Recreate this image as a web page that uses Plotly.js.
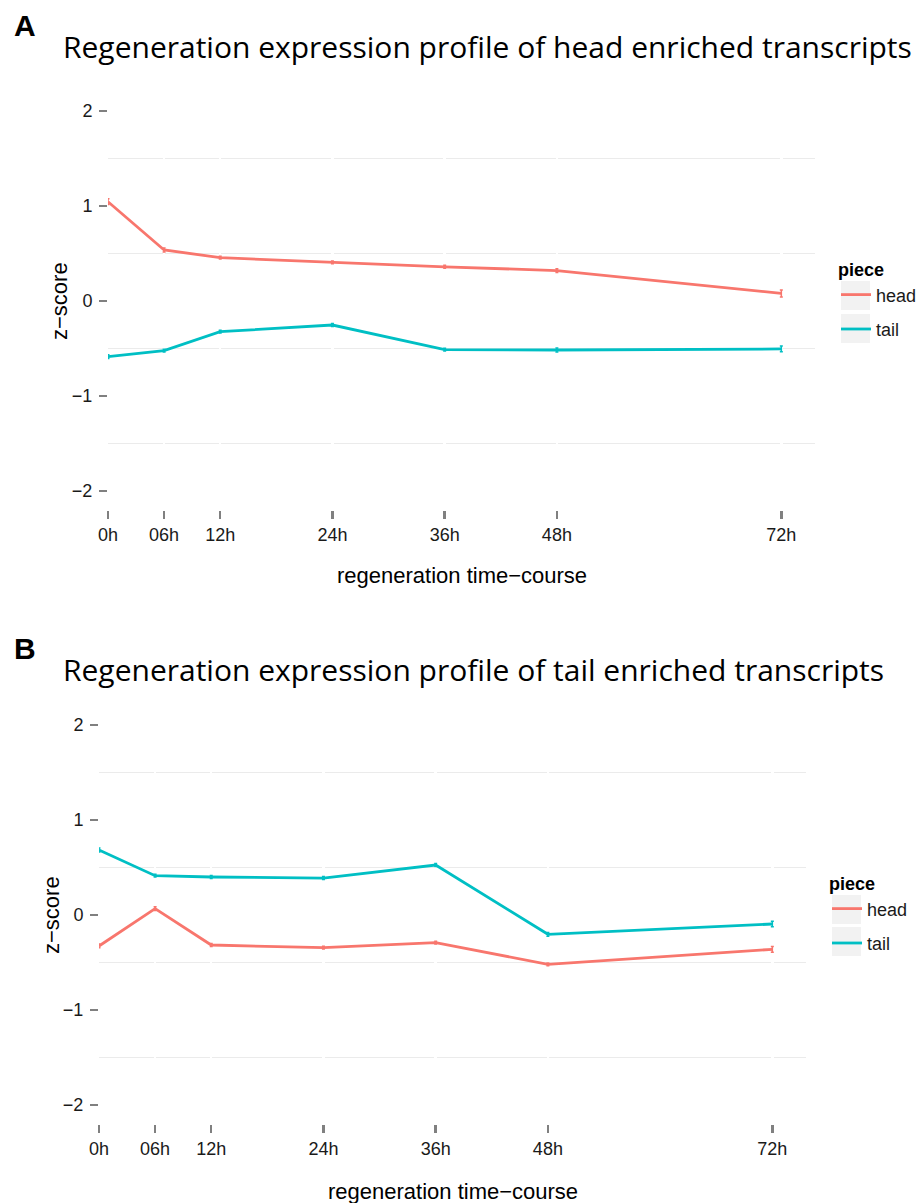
<!DOCTYPE html>
<html>
<head>
<meta charset="utf-8">
<script src="https://cdn.plot.ly/plotly-3.0.1.min.js"></script>
<style>html,body{margin:0;padding:0;background:#fff;}#chart{width:922px;height:1203px;}</style>
</head>
<body>
<div id="chart"></div>
<script>
// ---- data ----
const hours = [0, 6, 12, 24, 36, 48, 72];
const hourLabels = ['0h', '06h', '12h', '24h', '36h', '48h', '72h'];
const yTicks = [-2, -1, 0, 1, 2];
const yTickLabels = ['\u22122', '\u22121', '0', '1', '2'];

// Panel A: head enriched transcripts
const headA = [1.045, 0.537, 0.456, 0.407, 0.360, 0.320, 0.080];
const headAerr = [0.03, 0.02, 0.015, 0.015, 0.015, 0.02, 0.037];
const tailA = [-0.586, -0.523, -0.323, -0.253, -0.512, -0.516, -0.505];
const tailAerr = [0.02, 0.015, 0.015, 0.015, 0.015, 0.02, 0.03];

// Panel B: tail enriched transcripts
const headB = [-0.326, 0.067, -0.316, -0.344, -0.291, -0.519, -0.361];
const headBerr = [0.02, 0.02, 0.015, 0.015, 0.015, 0.015, 0.03];
const tailB = [0.684, 0.414, 0.400, 0.389, 0.526, -0.203, -0.095];
const tailBerr = [0.02, 0.015, 0.015, 0.015, 0.015, 0.02, 0.03];

const seriesNames = ['head', 'tail'];
const colors = ['#F8766D', '#00BFC4'];
const titleA = 'Regeneration expression profile of head enriched transcripts';
const titleB = 'Regeneration expression profile of tail enriched transcripts';
const xTitle = 'regeneration time\u2212course';
const yTitle = 'z\u2212score';
const legendTitle = 'piece';

// ---- helpers ----
const W = 922, H = 1203;
const px = v => v / W;
const py = v => 1 - v / H;

function tr(y, err, i, xa, ya, leg) {
  return {
    x: hours, y: y, type: 'scatter', mode: 'lines',
    name: seriesNames[i], legend: leg, legendgroup: leg + seriesNames[i],
    line: {color: colors[i], width: 2.8},
    error_y: {type: 'data', array: err, visible: true, color: colors[i], thickness: 1.5, width: 1.5},
    xaxis: xa, yaxis: ya, hoverinfo: 'x+y'
  };
}

const data = [
  tr(headA, headAerr, 0, 'x', 'y', 'legend'),
  tr(tailA, tailAerr, 1, 'x', 'y', 'legend'),
  tr(headB, headBerr, 0, 'x2', 'y2', 'legend2'),
  tr(tailB, tailBerr, 1, 'x2', 'y2', 'legend2')
];

const tickFont = {family: 'Liberation Sans, Arial, sans-serif', size: 18, color: '#1a1a1a'};

function xaxis(domain, anchor) {
  return {
    domain: domain, anchor: anchor, range: [0, 75.6],
    tickmode: 'array', tickvals: hours, ticktext: hourLabels,
    ticks: 'outside', ticklen: 8, tickwidth: 2.5, tickcolor: '#808080',
    showgrid: true, gridcolor: '#ffffff', gridwidth: 2.5,
    zeroline: false, showline: false, tickfont: tickFont, ticklabelstandoff: 0,
    fixedrange: true
  };
}
function yaxis(domain, anchor) {
  return {
    domain: domain, anchor: anchor, range: [-2.2, 2.2],
    tickmode: 'array', tickvals: yTicks, ticktext: yTickLabels,
    ticks: 'outside', ticklen: 8, tickwidth: 2.5, tickcolor: '#808080',
    showgrid: true, gridcolor: '#ffffff', gridwidth: 1,
    minor: {tickmode: 'array', tickvals: [-1.5, -0.5, 0.5, 1.5], showgrid: true, gridcolor: '#ebebeb', gridwidth: 1.5, ticks: ''},
    zeroline: false, showline: false, tickfont: tickFont, ticklabelstandoff: 3,
    fixedrange: true
  };
}

const legFont = {family: 'Liberation Sans, Arial, sans-serif', size: 18, color: '#1a1a1a'};
function legend(xpx, ypx) {
  return {
    x: px(xpx), y: py(ypx), xanchor: 'left', yanchor: 'top',
    bgcolor: 'rgba(0,0,0,0)', borderwidth: 0,
    traceorder: 'grouped', tracegroupgap: 8,
    font: legFont,
    title: {text: legendTitle, font: {family: 'Liberation Sans, Arial, sans-serif', size: 18, color: '#000', weight: 'bold'}},
    itemclick: false, itemdoubleclick: false
  };
}

const titleFont = {family: 'Open Sans, Noto Sans, sans-serif', size: 30, color: '#000'};
const axTitleFont = {family: 'Liberation Sans, Arial, sans-serif', size: 22, color: '#000'};
const letterFont = {family: 'Liberation Sans, Arial, sans-serif', size: 30, color: '#000', weight: 'bold'};

function ann(text, xpx, ypx, font, xanchor, extra) {
  return Object.assign({text: text, x: px(xpx), y: py(ypx), xref: 'paper', yref: 'paper',
    xanchor: xanchor, yanchor: 'middle', showarrow: false, font: font}, extra || {});
}

const annotations = [
  ann('A', 12, 25.5, letterFont, 'left'),
  ann(titleA, 61, 46.5, titleFont, 'left'),
  ann(xTitle, 461.5, 576, axTitleFont, 'center'),
  ann(yTitle, 60, 301, axTitleFont, 'center', {textangle: -90}),
  ann('B', 12, 648, letterFont, 'left'),
  ann(titleB, 61, 669.5, titleFont, 'left'),
  ann(xTitle, 452.5, 1191, axTitleFont, 'center'),
  ann(yTitle, 51, 915, axTitleFont, 'center', {textangle: -90})
];

function keyBox(x0, y0) {
  return {type: 'rect', xref: 'paper', yref: 'paper', layer: 'below',
    x0: px(x0), x1: px(x0 + 29), y0: py(y0), y1: py(y0 + 29),
    fillcolor: '#f2f2f2', line: {width: 0}};
}
const shapes = [
  keyBox(841, 281), keyBox(841, 314),
  keyBox(832, 895), keyBox(832, 927)
];

const layout = {
  width: W, height: H,
  margin: {l: 0, r: 0, t: 0, b: 0},
  paper_bgcolor: '#ffffff', plot_bgcolor: '#ffffff',
  showlegend: true,
  xaxis: xaxis([px(108), px(815)], 'y'),
  yaxis: yaxis([py(510), py(92)], 'x'),
  xaxis2: xaxis([px(99), px(806)], 'y2'),
  yaxis2: yaxis([py(1124), py(706)], 'x2'),
  legend: legend(836, 253),
  legend2: legend(827, 867),
  annotations: annotations,
  shapes: shapes
};

Plotly.newPlot('chart', data, layout, {displayModeBar: false, staticPlot: true});
</script>
</body>
</html>
